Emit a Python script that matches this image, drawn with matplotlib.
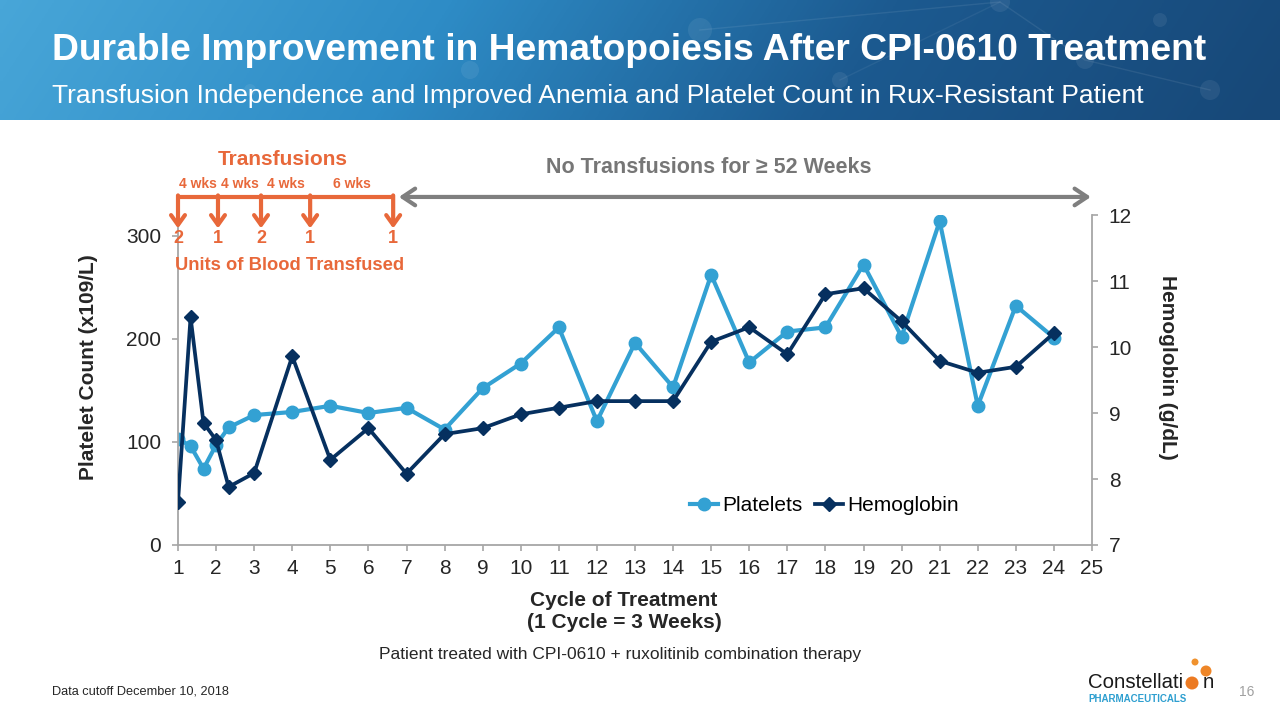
import numpy as np
import matplotlib.pyplot as plt
from matplotlib.colors import LinearSegmentedColormap
from matplotlib.lines import Line2D
from matplotlib.patches import Circle

plt.rcParams['font.family'] = ['Liberation Sans', 'DejaVu Sans']

# cycle of treatment (1 cycle = 3 weeks), weekly samples in the first cycles
cycles = [1, 1.33, 1.67, 2, 2.33, 3, 4, 5, 6, 7, 8, 9, 10, 11, 12, 13,
          14, 15, 16, 17, 18, 19, 20, 21, 22, 23, 24]
platelets = [103, 96, 74, 97, 114, 126, 129, 135, 128, 133, 112, 152, 176,
             211, 120, 196, 153, 262, 177, 207, 211, 272, 202, 314, 135, 232, 201]
hemoglobin = [7.65, 10.45, 8.85, 8.59, 7.88, 8.09, 9.86, 8.29, 8.77, 8.08,
              8.68, 8.77, 8.98, 9.08, 9.18, 9.18, 9.18, 10.08, 10.30, 9.89,
              10.80, 10.89, 10.39, 9.79, 9.61, 9.70, 10.21]

# transfusion events (cycle position), units given, and gaps between them
transfusion_at = [1.0, 2.05, 3.18, 4.47, 6.65]
units = ['2', '1', '2', '1', '1']
gaps = ['4 wks', '4 wks', '4 wks', '6 wks']

x_ticks = list(range(1, 26))
plt_ticks = [0, 100, 200, 300]
hb_ticks = [7, 8, 9, 10, 11, 12]

c_plt = '#33a1d3'
c_hb = '#06305f'
orange = '#e8683a'
grey_arrow = '#7f7f7f'
axis_grey = '#a6a6a6'
txt = '#262626'

fig = plt.figure(figsize=(12.8, 7.2), dpi=100)

# header banner (drawn in pixel units so circles stay round)
band = fig.add_axes([0, 1 - 120 / 720, 1, 120 / 720])
cmap = LinearSegmentedColormap.from_list('band', ['#48a6d8', '#2e8cc6', '#1c5a90', '#174878'])
grad = np.tile(np.linspace(0, 1, 400), (40, 1))
grad = grad + np.linspace(0, 0.06, 40)[:, None]
band.imshow(grad, cmap=cmap, aspect='auto', extent=[0, 1280, 0, 120], vmin=0, vmax=1.05)
nodes = [(700, 90, 12), (840, 40, 8), (1000, 118, 10), (1085, 60, 9), (1210, 30, 10),
         (250, 30, 6), (1160, 100, 7), (470, 50, 9)]
for cx, cy, r in nodes:
    band.add_patch(Circle((cx, cy), r, color='white', alpha=0.07, lw=0))
band.plot([700, 1000, 1085, 1210], [90, 118, 60, 30], color='white', alpha=0.08, lw=1)
band.plot([840, 1000], [40, 118], color='white', alpha=0.06, lw=1)
band.set_xlim(0, 1280)
band.set_ylim(0, 120)
band.axis('off')

fig.text(52 / 1280, 1 - 51 / 720, 'Durable Improvement in Hematopoiesis After CPI-0610 Treatment',
         color='white', fontsize=26.8, fontweight='bold', ha='left', va='center')
fig.text(52 / 1280, 1 - 96 / 720, 'Transfusion Independence and Improved Anemia and Platelet Count in Rux-Resistant Patient',
         color='white', fontsize=19, ha='left', va='center')

# main chart
ax = fig.add_axes([178 / 1280, 175 / 720, 914 / 1280, 330 / 720])
ax2 = ax.twinx()

ax.plot(cycles, platelets, color=c_plt, lw=3, marker='o', ms=9, label='Platelets')
ax2.plot(cycles, hemoglobin, color=c_hb, lw=2.7, marker='D', ms=7.2, label='Hemoglobin')

ax.set_xlim(1, 25)
ax.set_ylim(0, 320)
ax2.set_ylim(7, 12)
ax.set_xticks(x_ticks)
ax.set_yticks(plt_ticks)
ax2.set_yticks(hb_ticks)

for a in (ax, ax2):
    a.spines['top'].set_visible(False)
    for s in ('left', 'bottom', 'right'):
        a.spines[s].set_color(axis_grey)
        a.spines[s].set_linewidth(1.3)
    a.tick_params(direction='out', length=4, width=1.2, color=axis_grey,
                  labelcolor=txt, labelsize=15, pad=8)
ax.spines['right'].set_visible(False)
ax2.spines['left'].set_visible(False)
ax2.spines['bottom'].set_visible(False)
ax.tick_params(axis='x', pad=6)

fig.text(88 / 1280, 1 - 367 / 720, 'Platelet Count (x109/L)', rotation=90, ha='center', va='center',
         fontsize=15, fontweight='bold', color=txt)
fig.text(1168 / 1280, 1 - 367 / 720, 'Hemoglobin (g/dL)', rotation=270, ha='center', va='center',
         fontsize=15, fontweight='bold', color=txt)
fig.text(624 / 1280, 1 - 612 / 720, 'Cycle of Treatment\n(1 Cycle = 3 Weeks)', ha='center', va='center',
         fontsize=15, fontweight='bold', color=txt, linespacing=1.2)
fig.text(620 / 1280, 1 - 655 / 720, 'Patient treated with CPI-0610 + ruxolitinib combination therapy',
         ha='center', va='center', fontsize=12.5, color=txt)

handles = [Line2D([], [], color=c_plt, lw=3, marker='o', ms=9),
           Line2D([], [], color=c_hb, lw=2.7, marker='D', ms=7.2)]
ax.legend(handles, ['Platelets', 'Hemoglobin'], loc='center', bbox_to_anchor=(0.707, 0.12),
          ncol=2, frameon=False, fontsize=15, handlelength=1.35, handletextpad=0.2,
          columnspacing=0.6)

# transfusion annotations
y_bar = 337.5
ax.plot([transfusion_at[0] - 0.04, transfusion_at[-1]], [y_bar, y_bar], color=orange, lw=3,
        clip_on=False, solid_capstyle='butt')
for xt, u in zip(transfusion_at, units):
    ax.annotate('', xy=(xt, 307), xytext=(xt, y_bar + 1.5), annotation_clip=False,
                arrowprops=dict(arrowstyle='->,head_length=0.7,head_width=0.5',
                                color=orange, lw=3, shrinkA=0, shrinkB=0))
    ax.text(xt, 297, u, ha='center', va='center', fontsize=13, fontweight='bold',
            color=orange, clip_on=False)
for i, g in enumerate(gaps):
    xm = (transfusion_at[i] + transfusion_at[i + 1]) / 2
    ax.text(xm, 350, g, ha='center', va='center', fontsize=10, fontweight='bold',
            color=orange, clip_on=False)
ax.text(3.76, 374, 'Transfusions', ha='center', va='center', fontsize=15,
        fontweight='bold', color=orange, clip_on=False)
ax.text(3.94, 271, 'Units of Blood Transfused', ha='center', va='center', fontsize=13.2,
        fontweight='bold', color=orange, clip_on=False)

ax.annotate('', xy=(24.97, y_bar), xytext=(6.8, y_bar), annotation_clip=False,
            arrowprops=dict(arrowstyle='<->,head_length=0.9,head_width=0.6',
                            color=grey_arrow, lw=3, shrinkA=0, shrinkB=0))
ax.text(14.94, 366, 'No Transfusions for \u2265 52 Weeks', ha='center', va='center',
        fontsize=15.5, fontweight='bold', color='#767676', clip_on=False)

# footer
fig.text(52 / 1280, 1 - 692 / 720, 'Data cutoff December 10, 2018', ha='left', va='center',
         fontsize=9.2, color=txt)
fig.text(1247 / 1280, 1 - 692 / 720, '16', ha='center', va='center', fontsize=10, color='#a0a0a0')
fig.text(1088 / 1280, 1 - 682 / 720, 'Constellati', ha='left', va='center', fontsize=14.7,
         color='#1a1a1a')
fig.text(1214 / 1280, 1 - 682 / 720, 'n', ha='right', va='center', fontsize=14.7,
         color='#1a1a1a')
fig.text(1088 / 1280, 1 - 699 / 720, 'PHARMACEUTICALS', ha='left', va='center', fontsize=7,
         fontweight='bold', color='#2e9fd0')
# logo balls, in inches so they stay round
for (px, py, r, col) in [(1192, 683, 6.5, '#ec7a22'), (1206, 671, 5.5, '#ee8628'),
                         (1195, 662, 3.5, '#f0922e')]:
    fig.patches.append(Circle((px / 100, (720 - py) / 100), r / 100,
                              transform=fig.dpi_scale_trans, color=col, lw=0))

fig.savefig('out.png', dpi=100)
